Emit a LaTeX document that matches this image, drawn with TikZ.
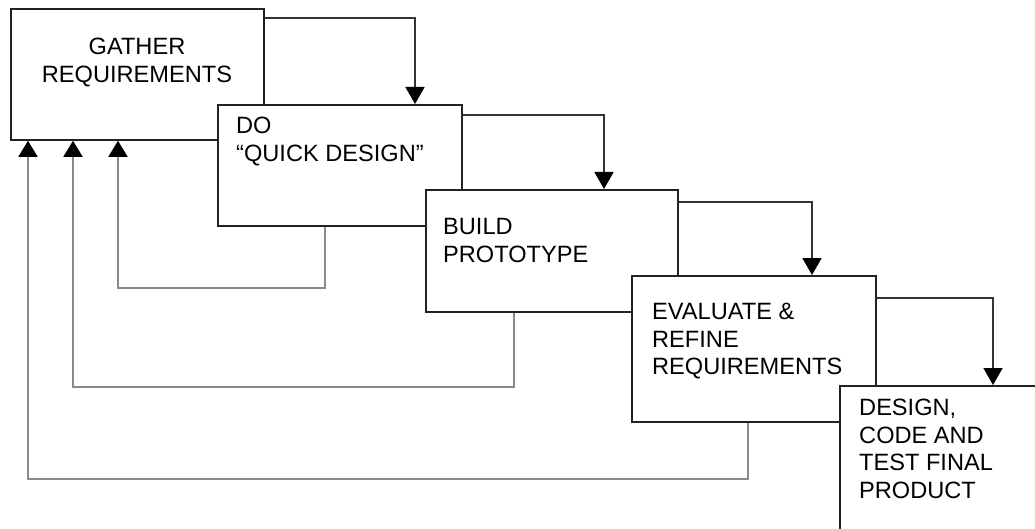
\documentclass[tikz,border=0pt]{standalone}
\usepackage{fontspec}
\setmainfont{Liberation Sans}
\usetikzlibrary{arrows.meta}
\definecolor{boxline}{HTML}{222222}
\definecolor{fwdline}{HTML}{333333}
\definecolor{backline}{HTML}{8A8A8A}
\tikzset{
  box/.style={draw=boxline, line width=1.8pt, fill=white, anchor=north west, inner sep=0pt},
  txt/.style={inner sep=0pt, font=\fontsize{23.6}{27.6}\selectfont, text=black},
  fwd/.style={draw=fwdline, line width=1.8pt, -{Triangle[width=19pt,length=17pt,color=black]}},
  back/.style={draw=backline, line width=1.8pt, -{Triangle[width=19pt,length=16pt,color=black]}, line join=miter}
}
\begin{document}
\begin{tikzpicture}[x=1pt,y=-1pt]
\useasboundingbox (0,0) rectangle (1035,529);
\clip (0,0) rectangle (1035,529);
% boxes
\node[box, minimum width=253pt, minimum height=131pt] (b1) at (10,8) {};
\node[box, minimum width=244pt, minimum height=121pt] (b2) at (217,104) {};
\node[box, minimum width=252pt, minimum height=122pt] (b3) at (425,189) {};
\node[box, minimum width=244pt, minimum height=146pt] (b4) at (631,275) {};
\node[box, minimum width=260pt, minimum height=200pt] (b5) at (839,385) {};
% texts
\node[txt, anchor=north, align=center] (t1) at (137,38) {GATHER\\REQUIREMENTS};
\node[txt, anchor=north west, align=left] (t2) at (236,117) {DO\\``QUICK DESIGN''};
\node[txt, anchor=north west, align=left] (t3) at (443,218) {BUILD\\PROTOTYPE};
\node[txt, anchor=north west, align=left] (t4) at (652,303) {EVALUATE \&\\REFINE\\REQUIREMENTS};
\node[txt, anchor=north west, align=left] (t5) at (859,399) {DESIGN,\\CODE AND\\TEST FINAL\\PRODUCT};
% forward arrows
\draw[fwd] ([yshift=-10pt]b1.north east) -| ([xshift=198pt]b2.north west);
\draw[fwd] ([yshift=-11pt]b2.north east) -| ([xshift=179pt]b3.north west);
\draw[fwd] ([yshift=-13pt]b3.north east) -| ([xshift=181pt]b4.north west);
\draw[fwd] ([yshift=-23pt]b4.north east) -| ([xshift=154pt]b5.north west);
% feedback arrows
\draw[back] ([xshift=108pt]b2.south west) -- ++(0,61) -| ([xshift=108pt]b1.south west);
\draw[back] ([xshift=89pt]b3.south west) -- ++(0,74) -| ([xshift=63pt]b1.south west);
\draw[back] ([xshift=117pt]b4.south west) -- ++(0,56) -| ([xshift=18pt]b1.south west);
\end{tikzpicture}
\end{document}
